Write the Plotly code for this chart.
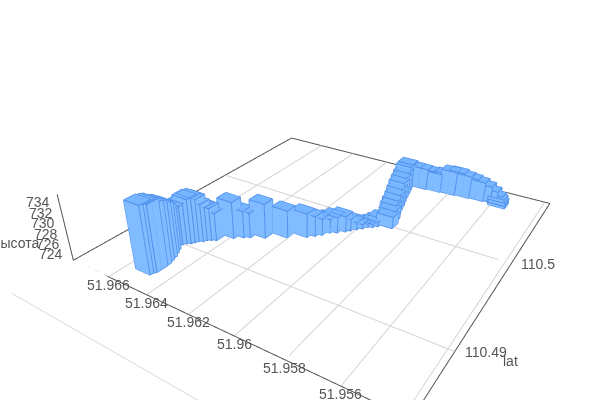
import plotly.graph_objects as go

W, H = 600, 487

# Values
lon = [51.96517,51.96512,51.96507,51.96509,51.96515,51.96523,51.96535,51.96549,51.96567,51.96576,51.96568,51.96560,51.96552,51.96538,51.96530,51.96522,51.96508,51.96500,51.96486,51.96469,
       51.96421,51.96389,51.96368,51.96314,51.96238,51.96174,51.96151,51.96131,51.96112,51.96088,51.96064,51.96050,51.96033,
       51.96016,51.96003,51.95985,51.95971,51.95954,51.95936,51.95930,51.95913,51.95926,51.95942,51.95951,51.95960,51.95970,51.95980,51.95989,51.96000,51.96010,51.96011,
       51.95979,51.95942,51.95910,51.95874,51.95842,51.95807,51.95775,51.95741,51.95710,51.95676,51.95646,51.95619,51.95597,51.95583,51.95576,51.95572]
lat = [110.48656,110.48682,110.48701,110.48741,110.48777,110.48818,110.48857,110.48900,110.48941,110.48986,110.49011,110.49036,110.49061,110.49077,110.49103,110.49128,110.49144,110.49170,110.49186,110.49205,
       110.49294,110.49339,110.49363,110.49417,110.49504,110.49585,110.49629,110.49668,110.49724,110.49753,110.49797,110.49830,110.49866,110.49903,110.49937,110.49957,110.49991,110.50028,110.50066,110.50110,
       110.50022,110.50096,110.50168,110.50233,110.50299,110.50367,110.50436,110.50507,110.50580,110.50655,110.50698,
       110.50735,110.50733,110.50748,110.50747,110.50762,110.50760,110.50775,110.50773,110.50788,110.50786,110.50801,110.50811,110.50816,110.50792,110.50781,110.50757]
height = [735.9,735.8,735.7,735.0,734.5,733.7,733.0,731.9,730.8,730.3,730.3,730.6,731.0,731.8,731.8,731.4,730.4,729.6,729.4,728.4,730.2,728.3,727.9,729.8,728.4,727.7,726.9,726.2,725.6,726.0,726.0,725.2,724.3,723.7,723.5,723.5,723.7,724.1,723.9,723.2,
          725.2,725.4,725.5,725.7,726.0,726.4,726.9,727.2,727.4,727.9,728.0,727.3,727.3,727.0,726.8,727.0,727.9,727.9,727.6,727.2,726.9,726.2,725.3,724.4,724.2,723.7,723.3]
lon_ticks = [51.966,51.964,51.962,51.96,51.958,51.956,51.954]
lat_ticks = [110.49,110.5]
z_ticks = [724,726,728,730,732,734]
xr = [51.968, 51.95377]; yr = [110.4845, 110.5099]; zr = [722.8, 735.6]

LX, LY, LZ = 1.1238, 1.1878, .2266
pad = .03
xa = [xr[0]+(xr[0]-xr[1])*pad, xr[1]-(xr[0]-xr[1])*pad]
ya = [yr[0]-(yr[1]-yr[0])*pad, yr[1]+(yr[1]-yr[0])*pad]
za = [zr[0]-(zr[1]-zr[0])*pad, zr[1]+(zr[1]-zr[0])*pad]

hx, hy = .00075/2, .00095/2
vx, vy, vz, I, J, K, fc = [], [], [], [], [], [], []
ex_x, ex_y, ex_z = [], [], []
SIDE = '#80bcff'; TOP = '#76b5ff'; EDGE = '#4f8fea'
faces = [(0,1,2,TOP),(0,2,3,TOP),(4,5,6,SIDE),(4,6,7,SIDE),(0,1,5,SIDE),(0,5,4,SIDE),(1,2,6,SIDE),(1,6,5,SIDE),(2,3,7,SIDE),(2,7,6,SIDE),(3,0,4,SIDE),(3,4,7,SIDE)]
edges = [(0,1),(1,2),(2,3),(3,0),(4,5),(5,6),(6,7),(7,4),(0,4),(1,5),(2,6),(3,7)]
for a, b, c in zip(lon, lat, height):
    base = len(vx)
    corners = [(a-hx,b-hy,c),(a+hx,b-hy,c),(a+hx,b+hy,c),(a-hx,b+hy,c),(a-hx,b-hy,zr[0]),(a+hx,b-hy,zr[0]),(a+hx,b+hy,zr[0]),(a-hx,b+hy,zr[0])]
    for p in corners:
        vx.append(p[0]); vy.append(p[1]); vz.append(p[2])
    for i, j, k, col in faces:
        I.append(base+i); J.append(base+j); K.append(base+k); fc.append(col)
    g = 1.015
    cc = [(a+(p[0]-a)*g, b+(p[1]-b)*g, p[2]+(.02 if p[2] > zr[0] else 0)) for p in corners]
    for i, j in edges:
        ex_x += [cc[i][0],cc[j][0],None]; ex_y += [cc[i][1],cc[j][1],None]; ex_z += [cc[i][2],cc[j][2],None]

fig = go.Figure()
fig.add_trace(go.Mesh3d(x=vx,y=vy,z=vz,i=I,j=J,k=K,facecolor=fc,flatshading=True,lighting=dict(ambient=1,diffuse=0,specular=0,fresnel=0,roughness=1),hoverinfo='skip',showscale=False))
fig.add_trace(go.Scatter3d(x=ex_x,y=ex_y,z=ex_z,mode='lines',line=dict(color=EDGE,width=2),hoverinfo='skip',showlegend=False))

def seg(xs, ys, zs, color):
    fig.add_trace(go.Scatter3d(x=xs,y=ys,z=zs,mode='lines',line=dict(color=color,width=2),hoverinfo='skip',showlegend=False))
for t in lon_ticks:
    seg([t,t],[yr[0],yr[1]],[zr[0],zr[0]],'#d4d4d4')
for t in lat_ticks:
    seg([xr[0],xr[1]],[t,t],[zr[0],zr[0]],'#d4d4d4')
seg([xr[0],xr[1]],[yr[0],yr[0]],[zr[0],zr[0]],'#555')
seg([xr[1],xr[1]],[yr[0],yr[1]],[zr[0],zr[0]],'#555')
seg([xr[1],xr[0]],[yr[1],yr[1]],[zr[0],zr[0]],'#555')
seg([xr[0],xr[0]],[yr[1],yr[0]],[zr[0],zr[0]],'#555')
seg([xr[0],xr[0]],[yr[0],yr[0]],[zr[0],zr[1]],'#555')

font = dict(family='Liberation Sans, Arial, sans-serif', size=14, color='#555')
ann = []
for t in lon_ticks[:-1]:
    ann.append(dict(x=t,y=yr[0],z=zr[0],text=f'{t:g}',showarrow=False,xanchor='center',yanchor='middle',yshift=-8,font=font))
for t in lat_ticks:
    ann.append(dict(x=xr[1],y=t,z=zr[0],text=f'{t:g}',showarrow=False,xanchor='left',yanchor='middle',xshift=8,font=font))
for t in z_ticks:
    ann.append(dict(x=xr[0],y=yr[0],z=t,text=str(t),showarrow=False,xanchor='right',yanchor='middle',xshift=-7,yshift=1,font=font))
ann.append(dict(x=xr[0],y=yr[0],z=726.4,text='высота',showarrow=False,xanchor='right',yanchor='middle',xshift=-28,font=font))
ann.append(dict(x=xr[1],y=110.49,z=zr[0],text='lat',showarrow=False,xanchor='center',yanchor='middle',xshift=56,yshift=-9,font=font))

def ax(r):
    return dict(range=r,title='',showgrid=False,zeroline=False,showline=False,showbackground=False,showspikes=False,showticklabels=False,ticks='')

k = 1+2*pad
fig.update_layout(width=W,height=H,autosize=False,margin=dict(l=0,r=0,t=0,b=0),paper_bgcolor='white',showlegend=False,
    shapes=[dict(type='line',xref='paper',yref='paper',x0=11.7/W,y0=1-293.3/H,x1=347/W,y1=1-486/H,line=dict(color='#d8d8d8',width=1))],
    scene=dict(domain=dict(x=[0,1],y=[0,1]),aspectmode='manual',aspectratio=dict(x=LX*k,y=LY*k,z=LZ*k),
        camera=dict(eye=dict(x=.8468,y=-1.4589,z=.8869),center=dict(x=-.0437,y=-.1175,z=-.1214),up=dict(x=0,y=0,z=1),projection=dict(type='perspective')),
        xaxis=ax(xa),yaxis=ax(ya),zaxis=ax(za),
        annotations=ann))
fig.write_html('out.html',config=dict(displayModeBar=False),post_script="document.body.style.margin='0';document.documentElement.style.overflow='hidden';document.body.style.overflow='hidden';")
